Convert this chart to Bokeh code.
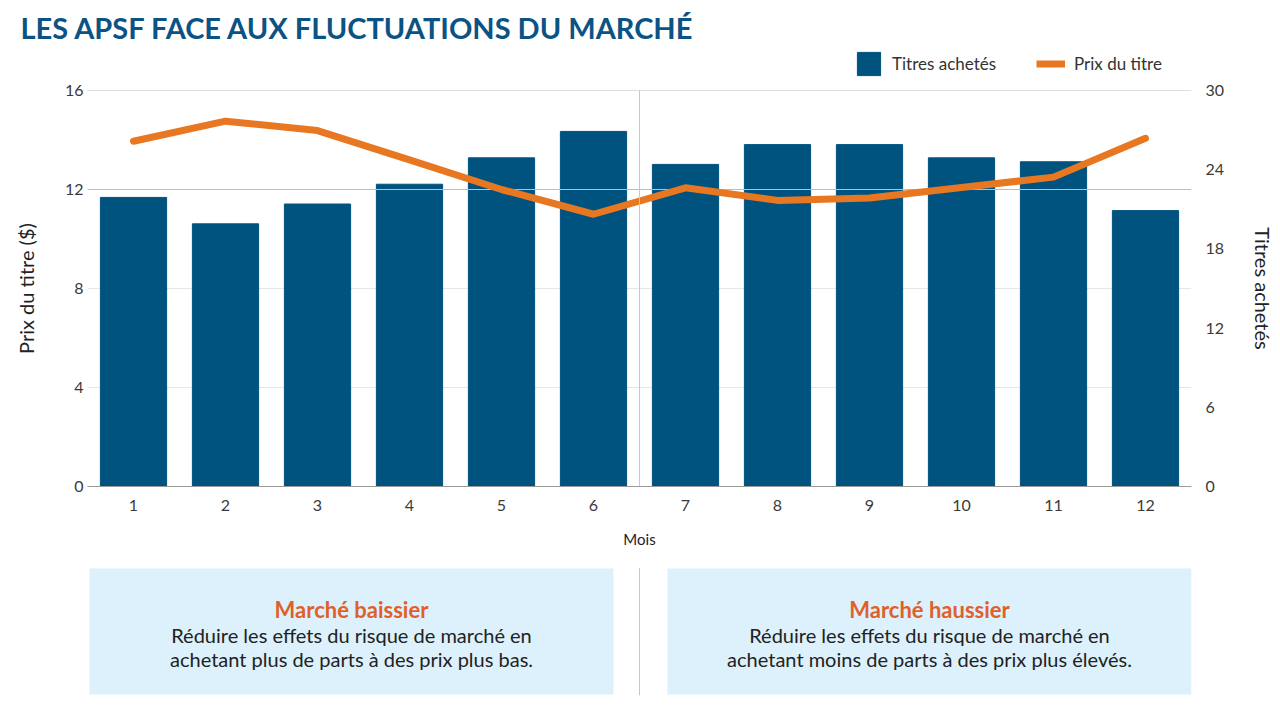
from bokeh.plotting import figure
from bokeh.models import (ColumnDataSource, FactorRange, Range1d, LinearAxis, FixedTicker,
                          Span, Legend, LegendItem, Label, BoxAnnotation)
from bokeh.layouts import column
from bokeh.embed import file_html
from bokeh.resources import INLINE

# ---- data ----
mois = [str(i) for i in range(1, 13)]
titres_achetes = [21.9, 19.9, 21.4, 22.9, 24.9, 26.9, 24.4, 25.9, 25.9, 24.9, 24.6, 20.9]
prix_du_titre = [13.95, 14.76, 14.38, 13.2, 12.0, 11.0, 12.07, 11.56, 11.66, 12.08, 12.5, 14.07]
prix_ticks = [0, 4, 8, 12, 16]
titres_ticks = [0, 6, 12, 18, 24, 30]
grid_fort = [12, 16]
grid_leger = [4, 8]

FONT = "Lato"
BLUE = "#00537f"
ORANGE = "#e87722"
NAN = float("nan")

# ---- header: title + legend ----
h = figure(width=1280, height=78, x_range=Range1d(87, 1191), y_range=Range1d(0, 1),
           output_backend="svg", toolbar_location=None, x_axis_type=None, y_axis_type=None,
           title="LES APSF FACE AUX FLUCTUATIONS DU MARCHÉ",
           min_border_left=87, min_border_right=89, min_border_top=48, min_border_bottom=0,
           outline_line_color=None)
h.grid.grid_line_color = None
h.title.align = "left"
h.title.offset = -67
h.title.standoff = 7
h.title.text_font = FONT
h.title.text_font_size = "29px"
h.title.text_font_style = "bold"
h.title.text_color = "#0a5384"

# legend-only renderers (no visible marks: NaN values)
leg_src = ColumnDataSource(dict(x=[NAN], top=[NAN], y=[NAN]))
leg_bar = h.vbar(x="x", top="top", width=0.72, fill_color=BLUE, line_color=BLUE, source=leg_src)
leg_line = h.line(x="x", y="y", line_width=7, line_color=ORANGE, source=leg_src)
legend = Legend(items=[LegendItem(label="Titres achetés", renderers=[leg_bar]),
                       LegendItem(label="Prix du titre", renderers=[leg_line])],
                orientation="horizontal", location=(767, 0), margin=0, padding=0,
                glyph_width=29, glyph_height=29, label_standoff=9, spacing=36,
                label_width=108,
                label_text_font=FONT, label_text_font_size="17px",
                label_text_color="#333333", border_line_color=None,
                background_fill_alpha=0)
h.add_layout(legend)

# ---- main chart ----
src = ColumnDataSource(dict(mois=mois, titres=titres_achetes, prix=prix_du_titre))

p = figure(width=1280, height=482, x_range=FactorRange(factors=mois),
           y_range=Range1d(0, 16), output_backend="svg", toolbar_location=None,
           title_location=None,
           min_border_left=87, min_border_right=89,
           min_border_top=12, min_border_bottom=74, outline_line_color=None,
           background_fill_color="white", border_fill_color="white")
p.extra_y_ranges = {"titres": Range1d(0, 30)}

p.xgrid.grid_line_color = None
p.ygrid.ticker = FixedTicker(ticks=grid_leger)
p.ygrid.grid_line_color = "#e6e6e6"

bars = p.vbar(x="mois", top="titres", width=0.72, y_range_name="titres",
              fill_color=BLUE, line_color=BLUE, source=src)
p.hspan(y=grid_fort, line_color="#bdbdbd", line_width=1)
line = p.line(x="mois", y="prix", line_width=7, line_color=ORANGE,
              line_cap="round", line_join="round", source=src)

p.add_layout(Span(location=6, dimension="height", line_color="#c8c8c8", line_width=1))

la = p.yaxis[0]
la.ticker = FixedTicker(ticks=prix_ticks)
la.axis_label = "Prix du titre ($)"

ra = LinearAxis(y_range_name="titres", ticker=FixedTicker(ticks=titres_ticks),
                axis_label="Titres achetés")
p.add_layout(ra, "right")

xa = p.xaxis[0]
for ax in (la, ra, xa):
    ax.major_tick_line_color = None
    ax.minor_tick_line_color = None
    ax.major_tick_out = 0
    ax.major_tick_in = 0
    ax.minor_tick_out = 0
    ax.major_label_text_font = FONT
    ax.major_label_text_font_size = "16px"
    ax.major_label_text_color = "#3a3a3a"
    ax.axis_label_text_font = FONT
    ax.axis_label_text_font_style = "normal"
    ax.axis_label_text_color = "#222222"
for ax in (la, ra):
    ax.axis_line_color = None
    ax.axis_label_text_font_size = "20px"
la.major_label_standoff = 4
la.axis_label_standoff = 24
ra.major_label_standoff = 14
ra.axis_label_standoff = 24

xa.axis_line_color = "#9a9a9a"
xa.major_label_standoff = 13
xa.axis_label = "Mois"
xa.axis_label_text_font_size = "15px"
xa.axis_label_standoff = 16

# ---- bottom explanatory boxes ----
q = figure(width=1280, height=160, x_range=Range1d(87, 1191), y_range=Range1d(135, 7),
           output_backend="svg", toolbar_location=None, min_border=0,
           min_border_left=87, min_border_right=89, min_border_top=7, min_border_bottom=25,
           outline_line_color=None, title_location=None)
q.axis.visible = False
q.grid.grid_line_color = None

BOX = "#dcf1fb"
q.add_layout(BoxAnnotation(left=89, right=613, top=8, bottom=134, fill_color=BOX,
                           fill_alpha=1, line_color=None))
q.add_layout(BoxAnnotation(left=667, right=1191, top=8, bottom=134, fill_color=BOX,
                           fill_alpha=1, line_color=None))
q.add_layout(Span(location=639, dimension="height", line_color="#c8c8c8", line_width=1))

panneaux = [
    (351, "Marché baissier", ["Réduire les effets du risque de marché en",
                              "achetant plus de parts à des prix plus bas."]),
    (929, "Marché haussier", ["Réduire les effets du risque de marché en",
                              "achetant moins de parts à des prix plus élevés."]),
]
for cx, titre, lignes in panneaux:
    q.add_layout(Label(x=cx, y=49, text=titre, text_align="center", text_baseline="middle",
                       text_font=FONT, text_font_size="22px", text_font_style="bold",
                       text_color="#e0602a"))
    for i, t in enumerate(lignes):
        q.add_layout(Label(x=cx, y=74 + 24 * i, text=t, text_align="center",
                           text_baseline="middle", text_font=FONT, text_font_size="20px",
                           text_color="#222222"))

layout = column(h, p, q, spacing=0)
open("out.html", "w").write(file_html(layout, INLINE))
